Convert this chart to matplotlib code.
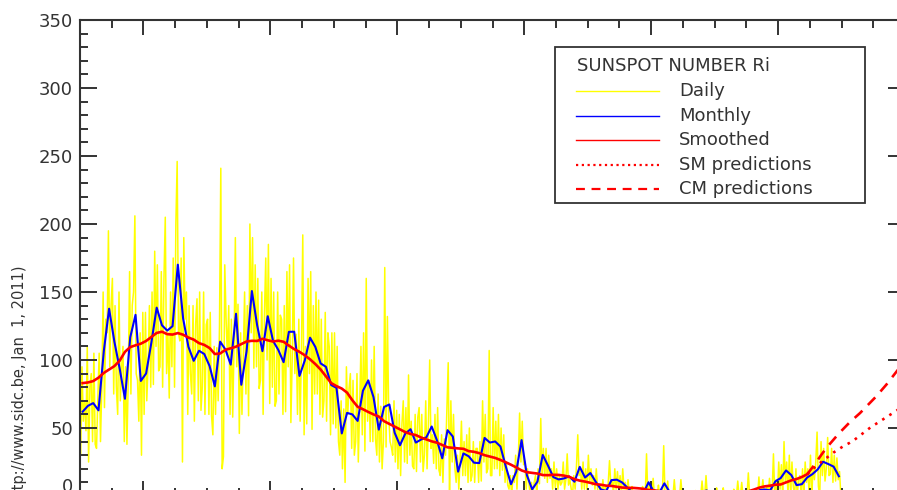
import numpy as np
import matplotlib
matplotlib.use("Agg")
import matplotlib.pyplot as plt
from matplotlib.ticker import MultipleLocator
from matplotlib.patches import Rectangle
from matplotlib.lines import Line2D

# --- data (Jan 1999 - Dec 2010) ---
START_YEAR = 1999

# daily sunspot number, sampled 4 times per month
daily_1999 = [30, 95, 55, 70, 48, 110, 25, 80, 90, 40, 105, 38, 35, 72, 105, 40,
              80, 150, 65, 130, 120, 195, 95, 140, 160, 75, 140, 80, 60, 150, 70, 95,
              110, 40, 95, 38, 85, 165, 75, 140, 150, 206, 90, 85, 55, 120, 30, 135]
daily_2000 = [60, 135, 70, 95, 140, 80, 150, 82, 180, 110, 170, 92, 95, 165, 80, 160,
              205, 90, 120, 72, 150, 95, 175, 80, 200, 246, 120, 114, 175, 25, 190, 130,
              150, 60, 140, 90, 75, 140, 55, 127, 145, 70, 150, 63, 80, 150, 60, 126]
daily_2001 = [130, 60, 135, 59, 45, 110, 60, 109, 70, 125, 241, 20, 29, 170, 130, 103,
              140, 60, 130, 58, 110, 190, 95, 141, 46, 120, 60, 102, 150, 75, 140, 59,
              200, 120, 190, 94, 170, 95, 160, 79, 85, 150, 60, 133, 175, 100, 185, 68]
daily_2002 = [160, 80, 150, 66, 70, 150, 75, 133, 130, 60, 140, 62, 165, 95, 170, 54,
              100, 175, 90, 119, 60, 130, 55, 107, 192, 45, 110, 53, 160, 90, 165, 49,
              140, 75, 150, 75, 144, 60, 130, 58, 70, 135, 55, 120, 110, 45, 120, 53]
daily_2003 = [120, 50, 110, 40, 30, 70, 20, 64, 10, 95, 60, 79, 90, 35, 85, 30,
              40, 90, 25, 65, 110, 45, 120, 33, 160, 55, 85, 40, 100, 40, 110, 42,
              30, 75, 25, 66, 20, 40, 168, 36, 132, 60, 40, 36, 30, 70, 25, 63]
daily_2004 = [20, 60, 15, 53, 70, 25, 65, 24, 89, 30, 55, 22, 20, 60, 18, 58,
              65, 25, 60, 18, 30, 70, 20, 52, 100, 35, 45, 24, 60, 20, 65, 19,
              15, 45, 10, 42, 30, 65, 98, 0, 70, 25, 60, 21, 10, 30, 5, 27]
daily_2005 = [55, 15, 40, 15, 45, 10, 50, 11, 15, 40, 10, 35, 35, 10, 40, 11,
              70, 25, 60, 17, 20, 107, 15, 15, 65, 20, 55, 20, 60, 15, 50, 19,
              45, 10, 25, 8, 5, 15, 0, 15, 10, 30, 5, 27, 61, 25, 55, 23]
daily_2006 = [25, 5, 20, 10, 0, 10, 0, 10, 15, 0, 20, 9, 57, 15, 35, 13,
              35, 10, 30, 13, 20, 5, 25, 6, 20, 5, 15, 8, 10, 25, 5, 12,
              31, 8, 12, 5, 0, 15, 5, 22, 45, 15, 20, 5, 25, 5, 20, 4]
daily_2007 = [30, 10, 20, 8, 15, 5, 20, 4, 0, 8, 0, 12, 0, 7, 0, 9,
              26, 8, 12, 2, 20, 5, 18, 5, 15, 0, 20, 5, 10, 0, 12, 2,
              0, 7, 0, 1, 0, 0, 4, 0, 0, 7, 0, 0, 31, 0, 9, 0]
daily_2008 = [0, 13, 0, 0, 0, 8, 0, 0, 0, 37, 0, 0, 11, 0, 0, 1,
              0, 12, 0, 0, 0, 0, 12, 0, 0, 2, 0, 0, 0, 0, 2, 0,
              0, 4, 0, 0, 0, 0, 11, 0, 0, 15, 0, 1, 0, 3, 0, 0]
daily_2009 = [0, 6, 0, 0, 0, 0, 6, 0, 0, 3, 0, 0, 0, 0, 5, 0,
              0, 11, 0, 0, 10, 0, 0, 0, 0, 17, 0, 0, 0, 0, 0, 0,
              0, 14, 0, 3, 12, 0, 0, 7, 0, 13, 0, 3, 31, 0, 12, 0]
daily_2010 = [25, 5, 23, 0, 40, 10, 25, 0, 30, 0, 25, 7, 0, 20, 0, 12,
              15, 0, 20, 0, 25, 10, 20, 0, 30, 0, 22, 12, 25, 47, 7, 0,
              40, 15, 35, 11, 20, 43, 15, 16, 35, 10, 30, 11, 28, 12, 18, 0]

# monthly means
monthly_1999 = [62.0, 66.3, 68.3, 63.0, 106.4, 137.7, 113.5, 93.7, 71.5, 116.7, 133.2, 84.6]
monthly_2000 = [90.1, 112.9, 138.5, 125.5, 121.6, 124.9, 170.1, 130.5, 109.7, 99.4, 106.8, 104.4]
monthly_2001 = [95.6, 80.6, 113.5, 107.7, 96.6, 134.0, 81.8, 106.4, 150.7, 125.5, 106.5, 132.2]
monthly_2002 = [114.1, 107.4, 98.4, 120.7, 120.8, 88.3, 99.6, 116.4, 109.6, 97.5, 95.0, 81.6]
monthly_2003 = [79.5, 46.0, 61.1, 60.0, 55.2, 77.4, 85.0, 72.7, 48.8, 65.5, 67.3, 46.5]
monthly_2004 = [37.3, 45.8, 49.1, 39.3, 41.5, 43.2, 51.1, 40.9, 27.7, 48.4, 43.7, 17.9]
monthly_2005 = [31.3, 29.2, 24.5, 24.2, 42.7, 39.3, 40.1, 36.4, 21.9, 8.7, 18.0, 41.1]
monthly_2006 = [15.3, 4.9, 10.6, 30.2, 22.3, 13.9, 12.2, 12.9, 14.4, 10.5, 21.4, 13.6]
monthly_2007 = [16.9, 10.6, 4.8, 3.7, 11.7, 12.0, 10.0, 6.2, 2.4, 0.9, 1.7, 10.1]
monthly_2008 = [3.3, 2.1, 9.3, 2.9, 2.9, 3.1, 0.5, 0.5, 1.1, 2.9, 4.1, 0.8]
monthly_2009 = [1.5, 1.4, 0.7, 1.2, 2.9, 2.6, 3.5, 0.0, 4.3, 4.8, 4.1, 10.8]
monthly_2010 = [13.2, 18.8, 15.4, 8.0, 8.7, 13.6, 16.1, 19.6, 25.2, 23.5, 21.6, 14.5]

# 13-month smoothed, Jan 1999 - Jun 2010
smoothed_1999 = [83.0, 83.5, 84.5, 87.0, 90.5, 93.0, 95.5, 99.5, 106.0, 109.5, 110.8, 112.0]
smoothed_2000 = [114.0, 117.0, 119.9, 120.8, 119.0, 118.7, 119.8, 118.6, 116.5, 115.0, 112.4, 111.1]
smoothed_2001 = [108.8, 104.4, 104.8, 107.5, 108.6, 109.8, 111.7, 113.6, 114.1, 114.0, 115.6, 114.5]
smoothed_2002 = [113.6, 114.2, 113.4, 110.6, 108.0, 106.0, 103.5, 100.5, 97.0, 93.0, 88.0, 83.0]
smoothed_2003 = [80.8, 79.0, 76.0, 70.4, 65.6, 63.8, 61.8, 60.0, 58.4, 55.0, 53.0, 51.0]
smoothed_2004 = [49.0, 47.0, 45.6, 44.8, 43.0, 41.6, 40.2, 39.2, 37.5, 35.8, 35.4, 35.0]
smoothed_2005 = [34.7, 33.0, 32.5, 31.5, 30.0, 29.0, 28.0, 26.5, 24.8, 23.0, 21.0, 18.8]
smoothed_2006 = [17.5, 17.0, 16.5, 15.4, 15.3, 15.6, 15.5, 15.0, 14.1, 12.4, 11.3, 10.6]
smoothed_2007 = [9.7, 8.7, 8.3, 7.6, 7.4, 6.8, 6.2, 6.0, 6.0, 5.7, 5.3, 4.4]
smoothed_2008 = [4.2, 3.6, 3.3, 3.4, 3.5, 3.1, 2.7, 2.5, 2.2, 1.8, 1.7, 1.7]
smoothed_2009 = [1.8, 1.9, 2.0, 2.1, 2.2, 2.7, 3.6, 4.8, 6.2, 7.1, 7.6, 8.3]
smoothed_2010 = [8.5, 10.0, 11.5, 12.5, 14.0, 16.0]

# predictions, monthly from Jun 2010
sm_pred = [16, 19.5, 23, 26, 29, 32, 34.5, 37, 39, 41.5, 44.5, 47.5, 50.5, 53, 55.5, 58,
           60.5, 63, 66, 69, 72, 75, 78]
cm_pred = [16, 21, 26.5, 32, 37, 41.5, 46, 50, 54, 57.5, 61, 65, 69, 73, 77.5, 82,
           87, 92, 97, 102, 107, 112, 117]
PRED_START = 2010 + 5 / 12  # Jun 2010

yticks = [0, 50, 100, 150, 200, 250, 300, 350]
legend_title = "SUNSPOT NUMBER Ri"
legend_labels = ["Daily", "Monthly", "Smoothed", "SM predictions", "CM predictions"]
credit = "SIDC (http://www.sidc.be, Jan  1, 2011)"

daily = np.concatenate([daily_1999, daily_2000, daily_2001, daily_2002, daily_2003,
                        daily_2004, daily_2005, daily_2006, daily_2007, daily_2008,
                        daily_2009, daily_2010])
monthly = np.concatenate([monthly_1999, monthly_2000, monthly_2001, monthly_2002,
                          monthly_2003, monthly_2004, monthly_2005, monthly_2006,
                          monthly_2007, monthly_2008, monthly_2009, monthly_2010])
smoothed = np.concatenate([smoothed_1999, smoothed_2000, smoothed_2001, smoothed_2002,
                           smoothed_2003, smoothed_2004, smoothed_2005, smoothed_2006,
                           smoothed_2007, smoothed_2008, smoothed_2009, smoothed_2010])

t_daily = START_YEAR + (np.arange(len(daily)) + 0.5) / 48
t_month = START_YEAR + (np.arange(len(monthly)) + 0.5) / 12
t_smooth = START_YEAR + (np.arange(len(smoothed)) + 0.5) / 12
t_sm = PRED_START + (np.arange(len(sm_pred)) + 0.5) / 12
t_cm = PRED_START + (np.arange(len(cm_pred)) + 0.5) / 12

# --- figure: the reference is a crop, so the axes run past the bottom/right edge ---
W, H = 897, 490
TXT = "#333333"
plt.rcParams["font.family"] = "DejaVu Sans"

def fx(x):
    return x / W

def fy(y):
    return 1 - y / H

fig = plt.figure(figsize=(W / 100, H / 100), dpi=100)
ax_l, ax_r, ax_t, ax_b = 80, 905, 20, 496
ax = fig.add_axes([fx(ax_l), fy(ax_b), (ax_r - ax_l) / W, (ax_b - ax_t) / H])

ax.plot(t_daily, daily, color="#ffff00", lw=1.1, zorder=1)
ax.plot(t_month, monthly, color="#0000ff", lw=1.5, zorder=2)
ax.plot(t_smooth, smoothed, color="#ff0000", lw=1.9, zorder=3)
ax.plot(t_sm, sm_pred, color="#ff0000", lw=1.9, ls=(0, (1, 2.2)), zorder=3)
ax.plot(t_cm, cm_pred, color="#ff0000", lw=1.9, ls=(0, (4, 3)), zorder=3)

ax.set_xlim(1999, 2012)
ax.set_ylim(0, 350)
ax.set_yticks(yticks)
ax.xaxis.set_major_locator(MultipleLocator(2))
ax.xaxis.set_minor_locator(MultipleLocator(0.5))
ax.yaxis.set_minor_locator(MultipleLocator(10))

for s in ax.spines.values():
    s.set_color(TXT)
    s.set_linewidth(1.5)
ax.tick_params(which="both", direction="in", top=True, right=True,
               color=TXT, width=1.4, labelcolor=TXT, labelsize=13, pad=5)
# x labels sit below the cropped edge of the reference
ax.tick_params(axis="x", labelbottom=False)
ax.tick_params(axis="y", which="major", length=12)
ax.tick_params(axis="x", which="major", length=11)
ax.tick_params(which="minor", length=6)
# the "0" label sits just above its tick in the reference
ax.get_yticklabels()[0].set_va("bottom")

# credit text on the left, rotated
fig.text(fx(19.5), fy(266), credit, rotation=90, ha="center", va="top",
         fontsize=10.5, color=TXT)

# --- legend box drawn by hand ---
fig.add_artist(Rectangle((fx(555), fy(203)), (865 - 555) / W, (203 - 47) / H,
                         transform=fig.transFigure, facecolor="white",
                         edgecolor=TXT, lw=1.3))
fig.text(fx(577), fy(66), legend_title, ha="left", va="center", fontsize=13, color=TXT)
styles = [("#ffff00", "-"), ("#0000ff", "-"), ("#ff0000", "-"),
          ("#ff0000", (0, (1, 1.6))), ("#ff0000", (0, (4, 3)))]
rows = [91, 116, 140, 165, 189]
for (col, ls), y, lab in zip(styles, rows, legend_labels):
    lw = 1.6 if lab.endswith("predictions") else 1.0
    fig.add_artist(Line2D([fx(576), fx(659)], [fy(y), fy(y)], transform=fig.transFigure,
                          color=col, ls=ls, lw=lw))
    fig.text(fx(679), fy(y), lab, ha="left", va="center", fontsize=13, color=TXT)

fig.savefig("out.png", dpi=100)
